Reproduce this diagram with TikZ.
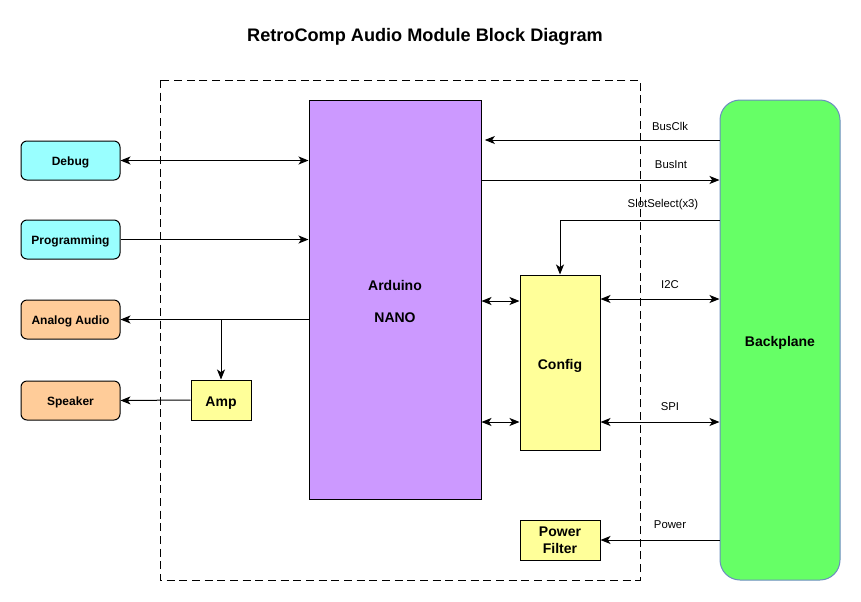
\documentclass[tikz,border=0pt]{standalone}
\usepackage{fontspec}
\setmainfont{Liberation Sans}
\usetikzlibrary{arrows.meta}
\definecolor{cyanf}{HTML}{99FFFF}
\definecolor{orangef}{HTML}{FFCC99}
\definecolor{yellowf}{HTML}{FFFF99}
\definecolor{purplef}{HTML}{CC99FF}
\definecolor{greenf}{HTML}{66FF66}
\definecolor{greend}{HTML}{6C8EBF}
\def\pxu{0.75pt}
\begin{document}
\begin{tikzpicture}[x=0.75pt,y=-0.75pt,
  every path/.style={line width=0.75pt},
  arr/.style={-{Stealth[length=7.5pt,width=6pt,inset=2pt]}},
  darr/.style={{Stealth[length=7.5pt,width=6pt,inset=2pt]}-{Stealth[length=7.5pt,width=6pt,inset=2pt]}},
  box/.style={draw=black,line width=0.75pt,inner sep=0pt,align=center,font=\bfseries\fontsize{10.5}{12.5}\selectfont},
  one/.style={text height=9.9pt,text depth=0pt},
  ext/.style={box,rounded corners=4.5pt,minimum width=99*\pxu,minimum height=39*\pxu,font=\bfseries\fontsize{9}{11}\selectfont,text height=8pt,text depth=0.4pt},
  lbl/.style={inner sep=0pt,font=\fontsize{8.5}{10}\selectfont}]
\useasboundingbox (0,0) rectangle (861,601);
\node[font=\bfseries\fontsize{13.6}{16}\selectfont] (title) at (425,37) {RetroComp Audio Module Block Diagram};
\draw[dashed,dash pattern=on 6pt off 3.5pt] (160,80) rectangle (640,580);
\node[ext,fill=cyanf] (dbg) at (70.5,160.5) {Debug};
\node[ext,fill=cyanf] (prog) at (70.5,239.5) {Programming};
\node[ext,fill=orangef] (aa) at (70.5,319.5) {Analog Audio};
\node[ext,fill=orangef] (spk) at (70.5,400.5) {Speaker};
\node[box,one,fill=yellowf,minimum width=60*\pxu,minimum height=40*\pxu] (amp) at (221,400) {Amp};
\node[box,fill=purplef,minimum width=172*\pxu,minimum height=399*\pxu] (ard) at (395,299.5) {};
\node[box,draw=none,fill=none] (ardt) at (395,301.5) {Arduino\\[12pt]NANO};
\node[box,one,fill=yellowf,minimum width=80*\pxu,minimum height=175*\pxu] (cfg) at (560,362.5) {Config};
\node[box,fill=yellowf,minimum width=80*\pxu,minimum height=40*\pxu] (pf) at (560,540) {Power\\Filter};
\node[box,one,draw=greend,fill=greenf,rounded corners=15pt,minimum width=120*\pxu,minimum height=480*\pxu] (bp) at (780,340) {Backplane};
% left side connectors
\draw[darr] (dbg.east) -- (dbg.east -| ard.west);
\draw[arr] (prog.east) -- (prog.east -| ard.west);
\draw[arr] (aa.east -| ard.west) -- (aa.east);
\draw[arr] (aa.east -| amp.north) -- (amp.north);
\draw[arr] (amp.west) -- (spk.east);
% right side
\draw[arr] (bp.west |- 0,140) -- ([xshift=2.5pt]ard.east |- 0,140);
\draw[arr] (ard.east |- 0,180) -- (bp.west |- 0,180);
\draw[arr] (bp.west |- 0,220) -| (cfg.north);
\draw[darr] (ard.east |- 0,301) -- (cfg.west |- 0,301);
\draw[darr] (ard.east |- 0,422) -- (cfg.west |- 0,422);
\draw[darr] (cfg.east |- 0,299) -- (bp.west |- 0,299);
\draw[darr] (cfg.east |- 0,422) -- (bp.west |- 0,422);
\draw[arr] (bp.west |- 0,540) -- (pf.east);
% labels
\node[lbl] (lclk) at (670,126) {BusClk};
\node[lbl] (lint) at (671,165) {BusInt};
\node[lbl] (lslot) at (663,205) {SlotSelect(x3)};
\node[lbl] (li2c) at (670,285) {I2C};
\node[lbl] (lspi) at (670,407) {SPI};
\node[lbl] (lpow) at (670,525) {Power};
\end{tikzpicture}
\end{document}
